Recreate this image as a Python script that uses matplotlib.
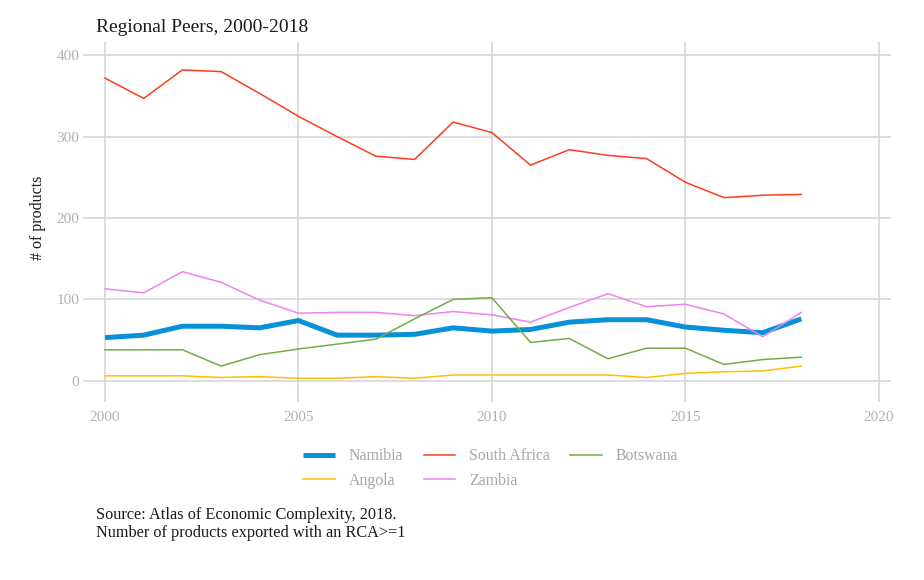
#!/usr/bin/env python3
# -*- coding: utf-8 -*-

"""
Regional peers: number of products exported with RCA >= 1, 2000-2018.
Values read off the reference chart (Atlas of Economic Complexity).
"""

import numpy as np
import matplotlib
matplotlib.use('Agg')
import matplotlib.pyplot as plt

years = np.arange(2000, 2019)

namibia = [53, 56, 67, 67, 65, 74, 56, 56, 57, 65, 61, 63, 72, 75, 75, 66, 62, 59, 76]
south_africa = [372, 347, 382, 380, 353, 325, 300, 276, 272, 318, 305, 265, 284, 277, 273, 244, 225, 228, 229]
botswana = [38, 38, 38, 18, 32, 39, 45, 51, 76, 100, 102, 47, 52, 27, 40, 40, 20, 26, 29]
angola = [6, 6, 6, 4, 5, 3, 3, 5, 3, 7, 7, 7, 7, 7, 4, 9, 11, 12, 18]
zambia = [113, 108, 134, 121, 99, 83, 84, 84, 80, 85, 81, 72, 90, 107, 91, 94, 82, 54, 84]

x_ticks = [2000, 2005, 2010, 2015, 2020]
y_ticks = [0, 100, 200, 300, 400]

title = 'Regional Peers, 2000-2018'
ylab = '# of products'
caption = 'Source: Atlas of Economic Complexity, 2018.\nNumber of products exported with an RCA>=1'

plt.rcParams['font.family'] = ['Liberation Serif', 'DejaVu Serif']

grid_col = '#d3d3d3'
tick_col = '#b0b0b0'
text_col = '#1a1a1a'

fig = plt.figure(figsize=(9.24, 5.8), dpi=100)
ax = fig.add_axes([0.0902, 0.3074, 0.8738, 0.6197])

# plotting order gives the row-wise legend layout of the reference
ax.plot(years, namibia, color='#0891d8', lw=3.6, label='Namibia', solid_capstyle='butt')
ax.plot(years, angola, color='#ffc000', lw=1.1, label='Angola')
ax.plot(years, south_africa, color='#ff3c1f', lw=1.1, label='South Africa')
ax.plot(years, zambia, color='#ee82ee', lw=1.1, label='Zambia')
ax.plot(years, botswana, color='#70ad47', lw=1.1, label='Botswana')

ax.set_xlim(1999.44, 2020.31)
ax.set_ylim(-25.8, 416)
ax.set_xticks(x_ticks)
ax.set_yticks(y_ticks)
ax.grid(True, color=grid_col, lw=1.1)
ax.set_axisbelow(True)
for s in ax.spines.values():
    s.set_visible(False)
ax.tick_params(length=0, colors=tick_col, labelsize=11)
ax.tick_params(axis='x', pad=7)
ax.tick_params(axis='y', pad=3)

# axis label, title and caption
fig.text(38.5/924, 1 - 217.5/580, ylab, fontsize=11.5, color=text_col, rotation=90,
         ha='center', va='center')
fig.text(96/924, 1 - 27/580, title, fontsize=14, color=text_col, ha='left', va='center')
fig.text(96/924, 1 - 524/580, caption, fontsize=11.7, color=text_col, ha='left', va='center',
         linespacing=1.1)

leg = fig.legend(loc='center', bbox_to_anchor=(0.531, 1 - 468.5/580), ncol=3, frameon=False,
                 fontsize=11.4, handlelength=2.0, handletextpad=0.85, columnspacing=1.3,
                 labelspacing=0.55)
for t in leg.get_texts():
    t.set_color('#a6a6a6')

fig.savefig('out.png', dpi=100)
